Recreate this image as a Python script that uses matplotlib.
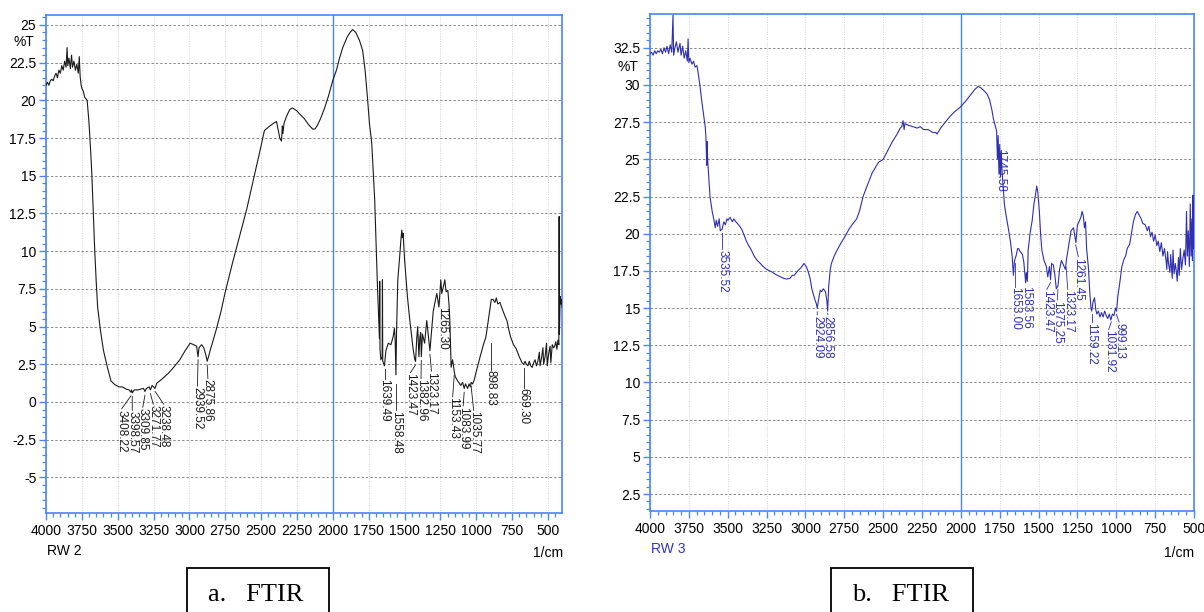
import numpy as np
import matplotlib
matplotlib.use("Agg")
import matplotlib.pyplot as plt
from matplotlib.ticker import MultipleLocator, FuncFormatter
from matplotlib.patches import Rectangle

plt.rcParams['font.family'] = ['Liberation Sans', 'DejaVu Sans']

# RW 2 spectrum (wavenumber, %T)
rw2_points = [
    (4000, 21.0), (3990, 21.2), (3980, 21.0), (3970, 21.3), (3960, 21.4), (3950, 21.3),
    (3940, 21.6), (3930, 21.8), (3920, 21.5), (3910, 22.0), (3900, 21.8), (3890, 22.3),
    (3880, 22.0), (3870, 22.6), (3860, 22.2), (3853, 23.5), (3848, 22.3), (3840, 22.8),
    (3830, 22.1), (3822, 23.0), (3815, 22.2), (3805, 22.6), (3795, 22.0), (3785, 22.4),
    (3775, 21.8), (3768, 22.9), (3762, 21.6), (3755, 21.0), (3750, 20.8), (3740, 20.6),
    (3730, 20.2), (3713, 20.0), (3700, 18.5), (3686, 16.2), (3680, 15.0), (3670, 12.5),
    (3660, 10.0), (3650, 8.0), (3640, 6.3), (3621, 4.8), (3600, 3.45), (3573, 2.34),
    (3547, 1.4), (3520, 1.15), (3490, 1.0), (3467, 1.0), (3440, 0.85), (3420, 0.8),
    (3408, 0.65), (3403, 0.8), (3398, 0.6), (3385, 0.8), (3360, 0.8), (3340, 0.85),
    (3320, 0.9), (3310, 0.7), (3300, 0.9), (3280, 1.0), (3272, 0.8), (3260, 1.1),
    (3240, 0.9), (3227, 1.25), (3200, 1.45), (3170, 1.7), (3147, 1.9), (3110, 2.3),
    (3067, 2.8), (3030, 3.4), (2995, 3.9), (2970, 3.8), (2950, 3.7), (2940, 3.0),
    (2933, 3.6), (2915, 3.8), (2900, 3.6), (2885, 3.1), (2876, 2.7), (2867, 3.0),
    (2850, 3.6), (2840, 3.9), (2813, 4.8), (2780, 6.0), (2750, 7.3), (2700, 9.2),
    (2650, 11.0), (2600, 12.8), (2550, 14.9), (2500, 17.0), (2477, 18.0), (2440, 18.3),
    (2410, 18.5), (2393, 18.6), (2380, 18.0), (2370, 17.5), (2358, 17.3), (2352, 18.3),
    (2348, 17.8), (2340, 18.5), (2320, 19.0), (2300, 19.4), (2281, 19.5), (2250, 19.3),
    (2232, 19.1), (2200, 18.8), (2170, 18.4), (2141, 18.1), (2125, 18.1), (2110, 18.3),
    (2085, 18.8), (2057, 19.5), (2030, 20.3), (2001, 21.3), (1975, 22.0), (1953, 22.8),
    (1931, 23.5), (1900, 24.2), (1880, 24.5), (1862, 24.7), (1840, 24.5), (1815, 24.0),
    (1792, 23.3), (1775, 22.0), (1757, 20.0), (1745, 18.5), (1729, 17.2), (1708, 13.4),
    (1700, 11.0), (1690, 8.0), (1680, 5.5), (1675, 4.2), (1673, 8.0), (1671, 3.5),
    (1665, 2.8), (1656, 3.0), (1654, 8.1), (1652, 2.7), (1640, 2.4), (1630, 3.4),
    (1613, 3.9), (1595, 3.8), (1580, 4.3), (1570, 4.9), (1565, 4.0), (1560, 1.8),
    (1556, 4.5), (1547, 8.1), (1535, 9.5), (1525, 10.8), (1519, 11.4), (1515, 10.9),
    (1510, 11.2), (1500, 9.5), (1480, 7.0), (1463, 5.4), (1450, 4.3), (1440, 3.5),
    (1428, 2.8), (1423, 2.7), (1415, 4.2), (1408, 5.0), (1400, 3.0), (1393, 4.3),
    (1387, 4.6), (1383, 3.0), (1375, 4.5), (1360, 3.9), (1345, 5.4), (1335, 4.5),
    (1323, 3.4), (1315, 4.3), (1300, 6.0), (1290, 6.5), (1275, 7.2), (1260, 6.3),
    (1247, 8.1), (1240, 7.2), (1230, 7.6), (1219, 8.1), (1210, 7.3), (1198, 7.4),
    (1190, 6.5), (1184, 5.4), (1180, 4.0), (1175, 2.3), (1165, 2.8), (1160, 2.5),
    (1153, 2.0), (1147, 1.7), (1130, 1.4), (1115, 1.2), (1107, 1.1), (1095, 1.3),
    (1084, 0.9), (1075, 1.2), (1060, 0.9), (1050, 1.2), (1040, 1.0), (1036, 1.3),
    (1025, 1.2), (1013, 1.5), (995, 2.2), (973, 3.0), (950, 3.8), (933, 4.3),
    (925, 4.8), (910, 5.8), (895, 6.8), (883, 6.8), (870, 6.6), (860, 6.9),
    (850, 6.5), (835, 6.6), (820, 6.2), (800, 5.7), (786, 5.4), (773, 4.8),
    (760, 4.3), (740, 3.8), (720, 3.5), (700, 3.0), (690, 2.8), (680, 2.6),
    (670, 2.5), (660, 2.7), (650, 2.5), (640, 2.4), (630, 2.7), (620, 2.4),
    (610, 2.3), (600, 2.6), (590, 2.8), (580, 2.4), (570, 2.7), (560, 3.3),
    (555, 2.4), (545, 2.9), (535, 3.6), (530, 2.5), (520, 3.0), (510, 3.9),
    (505, 2.4), (495, 3.2), (485, 3.7), (480, 2.6), (470, 3.8), (460, 3.6),
    (453, 3.7), (445, 4.0), (438, 3.5), (430, 4.1), (424, 3.8), (422, 12.3),
    (420, 4.5), (415, 7.0), (410, 6.5), (405, 6.8), (402, 6.3),
]

# RW 3 spectrum (wavenumber, %T)
rw3_points = [
    (4000, 32.1), (3990, 32.2), (3980, 32.0), (3970, 32.3), (3960, 32.1), (3950, 32.3),
    (3940, 32.2), (3930, 32.4), (3920, 32.1), (3910, 32.5), (3900, 32.2), (3891, 32.6),
    (3880, 32.1), (3870, 32.7), (3860, 32.2), (3852, 34.7), (3848, 32.0), (3840, 32.5),
    (3830, 32.9), (3820, 32.2), (3807, 32.8), (3800, 32.0), (3790, 32.6), (3780, 31.8),
    (3770, 32.3), (3760, 31.6), (3755, 33.1), (3750, 31.5), (3743, 31.8), (3730, 31.4),
    (3720, 31.6), (3710, 31.2), (3698, 31.3), (3690, 30.8), (3678, 29.9), (3668, 29.0),
    (3659, 28.3), (3645, 27.2), (3640, 26.5), (3635, 24.6), (3633, 26.2), (3628, 24.8),
    (3614, 22.5), (3600, 21.5), (3590, 21.0), (3580, 20.4), (3574, 20.9), (3565, 20.5),
    (3555, 21.0), (3548, 20.2), (3536, 20.3), (3525, 20.8), (3515, 20.6), (3505, 21.0),
    (3498, 20.9), (3485, 21.1), (3470, 20.8), (3460, 21.0), (3448, 20.8), (3430, 20.6),
    (3410, 20.3), (3398, 20.0), (3380, 19.5), (3365, 19.2), (3348, 18.9), (3330, 18.5),
    (3310, 18.2), (3290, 18.0), (3272, 17.8), (3250, 17.6), (3230, 17.5), (3210, 17.4),
    (3197, 17.3), (3180, 17.2), (3160, 17.1), (3140, 17.0), (3122, 16.95), (3100, 17.0),
    (3085, 17.2), (3072, 17.2), (3050, 17.5), (3030, 17.7), (3009, 18.0), (2995, 17.8),
    (2984, 17.5), (2970, 17.0), (2959, 16.3), (2940, 15.6), (2930, 15.3), (2924, 15.0),
    (2915, 15.6), (2905, 16.2), (2896, 16.1), (2885, 16.3), (2871, 16.1), (2862, 15.5),
    (2857, 14.8), (2850, 16.5), (2840, 17.6), (2833, 18.0), (2815, 18.5), (2796, 18.9),
    (2770, 19.4), (2746, 19.8), (2720, 20.3), (2700, 20.6), (2670, 21.0), (2650, 21.6),
    (2629, 22.5), (2600, 23.3), (2570, 24.1), (2530, 24.8), (2500, 25.0), (2470, 25.6),
    (2440, 26.2), (2410, 26.7), (2390, 27.1), (2380, 27.2), (2372, 27.6), (2365, 27.0),
    (2360, 27.4), (2340, 27.3), (2310, 27.2), (2280, 27.1), (2262, 27.2), (2240, 27.0),
    (2210, 27.0), (2180, 26.8), (2160, 26.8), (2153, 26.7), (2130, 27.1), (2100, 27.5),
    (2069, 27.9), (2040, 28.2), (2005, 28.5), (1970, 28.9), (1940, 29.3), (1910, 29.7),
    (1889, 29.9), (1870, 29.8), (1850, 29.6), (1832, 29.4), (1815, 29.0), (1800, 28.3),
    (1790, 27.7), (1780, 27.3), (1770, 26.9), (1765, 25.0), (1760, 26.6), (1755, 24.0),
    (1750, 26.0), (1745, 23.8), (1740, 25.6), (1735, 24.2), (1730, 23.5), (1720, 22.0),
    (1710, 21.3), (1700, 20.7), (1692, 20.2), (1680, 19.4), (1670, 18.5), (1662, 17.2),
    (1655, 18.2), (1645, 18.5), (1635, 19.0), (1629, 19.0), (1618, 18.8), (1604, 18.6),
    (1595, 18.1), (1583, 16.7), (1579, 17.4), (1572, 16.8), (1567, 18.9), (1555, 20.0),
    (1541, 20.9), (1530, 22.0), (1520, 22.6), (1512, 23.2), (1505, 22.8), (1495, 21.5),
    (1487, 20.0), (1479, 18.9), (1465, 18.2), (1450, 17.8), (1441, 17.1), (1430, 17.8),
    (1423, 16.9), (1416, 18.0), (1405, 17.9), (1395, 17.2), (1386, 16.3), (1375, 16.5),
    (1365, 17.6), (1353, 18.2), (1340, 17.9), (1328, 17.6), (1320, 18.3), (1305, 19.3),
    (1291, 20.2), (1275, 20.4), (1260, 19.4), (1250, 20.6), (1240, 20.8), (1228, 21.1),
    (1220, 21.5), (1212, 21.2), (1205, 20.4), (1198, 20.8), (1191, 19.0), (1180, 17.8),
    (1170, 16.0), (1163, 15.0), (1158, 14.8), (1150, 15.4), (1140, 15.7), (1132, 14.9),
    (1125, 14.6), (1115, 14.8), (1105, 14.4), (1095, 14.7), (1085, 14.4), (1075, 14.8),
    (1065, 14.5), (1055, 14.3), (1045, 14.6), (1035, 14.2), (1025, 14.6), (1015, 14.5),
    (1005, 15.0), (998, 14.8), (990, 15.8), (980, 16.5), (964, 17.8), (950, 18.3),
    (940, 18.5), (930, 19.0), (914, 19.3), (900, 20.2), (890, 20.8), (876, 21.3),
    (865, 21.5), (850, 21.2), (840, 21.0), (830, 20.7), (814, 20.6), (800, 20.2),
    (790, 20.5), (780, 19.8), (770, 20.1), (760, 19.5), (750, 19.9), (739, 19.2),
    (730, 19.5), (720, 18.8), (710, 19.4), (700, 18.5), (690, 19.0), (680, 18.2),
    (675, 17.6), (670, 18.8), (664, 18.0), (655, 17.4), (650, 18.6), (640, 17.0),
    (635, 18.9), (628, 17.3), (620, 18.0), (614, 17.5), (608, 16.8), (600, 18.4),
    (595, 17.2), (588, 19.0), (580, 17.6), (572, 18.3), (563, 18.9), (555, 17.9),
    (548, 21.5), (543, 18.5), (537, 20.2), (530, 17.8), (524, 22.0), (519, 18.5),
    (514, 21.0), (510, 18.2), (506, 22.6), (503, 19.0), (500, 20.0),
]

rw2_peaks = [3408.22, 3398.57, 3309.85, 3271.77, 3238.48, 2939.52, 2875.86,
             1639.49, 1558.48, 1423.47, 1382.96, 1323.17, 1265.30, 1153.43,
             1083.99, 1035.77, 898.83, 669.30]
rw3_peaks = [3535.52, 2924.09, 2856.58, 1745.58, 1653.00, 1583.56, 1423.47,
             1375.25, 1323.17, 1261.45, 1159.22, 1031.92, 999.13]

# layout: %T level where each peak label starts
rw2_label_top = [-0.5, -0.6, -0.4, -0.2, -0.2, 1.0, 1.5,
                 1.5, -0.6, 1.9, 1.5, 2.0, 6.3, 0.3,
                 -0.3, -0.6, 2.1, 0.9]
rw3_label_top = [18.9, 14.5, 14.5, 25.7, 16.4, 16.5, 16.2,
                 15.5, 16.2, 18.4, 14.0, 13.5, 14.0]

W, H = 1204, 612
BLUE = '#4a84ff'


def spread(xs, min_gap):
    # push label positions apart so the rotated texts do not overlap
    xs = np.array(xs, dtype=float)
    order = np.argsort(-xs)
    pos = xs[order].copy()
    for _ in range(200):
        moved = False
        for i in range(len(pos) - 1):
            d = pos[i] - pos[i + 1]
            if d < min_gap:
                shift = (min_gap - d) / 2
                pos[i] += shift
                pos[i + 1] -= shift
                moved = True
        if not moved:
            break
    out = np.empty_like(xs)
    out[order] = pos
    return out


def panel(ax, points, color, peaks, tops, xlim, ylim, ymin_tick, ymax_tick):
    wn, t = np.array(points).T
    ax.set_xlim(*xlim)
    ax.set_ylim(*ylim)
    ax.set_axisbelow(True)
    ax.grid(axis='y', which='major', color='#8a8a8a', linestyle=(0, (2.5, 2)), lw=0.7)
    ax.grid(axis='x', which='major', color='#d2d2d2', linestyle=(0, (1, 1.5)), lw=0.7)
    ax.axvline(2000, color=BLUE, lw=1.0, zorder=1)
    ax.plot(wn, t, color=color, lw=0.8, zorder=3)

    ax.xaxis.set_major_locator(MultipleLocator(250))
    ax.xaxis.set_minor_locator(MultipleLocator(50))
    ax.set_yticks(np.arange(ymin_tick, ymax_tick + 0.01, 2.5))
    ax.yaxis.set_minor_locator(MultipleLocator(0.5))
    fmt = FuncFormatter(lambda v, p: '{:g}'.format(round(v, 2)))
    ax.xaxis.set_major_formatter(fmt)
    ax.yaxis.set_major_formatter(fmt)
    ax.tick_params(which='major', direction='out', length=5, width=1.0,
                   color=BLUE, labelsize=10, pad=2)
    ax.tick_params(which='minor', direction='out', length=3, width=0.9, color=BLUE)
    ax.tick_params(axis='x', pad=3)
    for s in ax.spines.values():
        s.set_color(BLUE)
        s.set_linewidth(1.2)

    # peak labels
    px_per_unit = ax.bbox.width / abs(xlim[0] - xlim[1])
    xt = spread(peaks, 10.5 / px_per_unit)
    for w, x_text, top in zip(peaks, xt, tops):
        y_curve = np.interp(w, wn[::-1], t[::-1])
        upper = min(y_curve - 0.25, top + 1.8)
        if upper > top + 0.1:
            ax.plot([w, x_text], [upper, top + 0.05], color=color, lw=0.6, zorder=3)
        ax.text(x_text, top, '{:.2f}'.format(w), rotation=-90, ha='center', va='top',
                fontsize=8.5, color=color, zorder=4)


fig = plt.figure(figsize=(W / 100, H / 100), dpi=100)
ax1 = fig.add_axes([46 / W, 1 - 513 / H, (562 - 46) / W, (513 - 15) / H])
ax2 = fig.add_axes([650 / W, 1 - 511 / H, (1194 - 650) / W, (511 - 14) / H])

panel(ax1, rw2_points, '#1a1a1a', rw2_peaks, rw2_label_top,
      (4000, 402), (-7.36, 25.66), -5, 25)
panel(ax2, rw3_points, '#2f2fb0', rw3_peaks, rw3_label_top,
      (4000, 500), (1.36, 34.77), 2.5, 32.5)

fig.text(24 / W, 1 - 42 / H, '%T', ha='center', va='center', fontsize=10)
fig.text(628 / W, 1 - 67 / H, '%T', ha='center', va='center', fontsize=10)
fig.text(47 / W, 1 - 551 / H, 'RW 2', ha='left', va='center', fontsize=10)
fig.text(563 / W, 1 - 553 / H, '1/cm', ha='right', va='center', fontsize=10)
fig.text(651 / W, 1 - 549 / H, 'RW 3', ha='left', va='center', fontsize=10, color='#3434c8')
fig.text(1194 / W, 1 - 553 / H, '1/cm', ha='right', va='center', fontsize=10)

for x0, x1, label in [(187, 329, 'a.   FTIR'), (831, 973, 'b.   FTIR')]:
    fig.add_artist(Rectangle((x0 / W, 1 - 640 / H), (x1 - x0) / W, (640 - 568) / H,
                             transform=fig.transFigure, fill=False, ec='black',
                             lw=1.3, clip_on=False))
    fig.text((x0 + 21) / W, 1 - 595 / H, label, ha='left', va='center',
             fontsize=19, family=['Liberation Serif', 'DejaVu Serif'])

fig.savefig('out.png', dpi=100)
